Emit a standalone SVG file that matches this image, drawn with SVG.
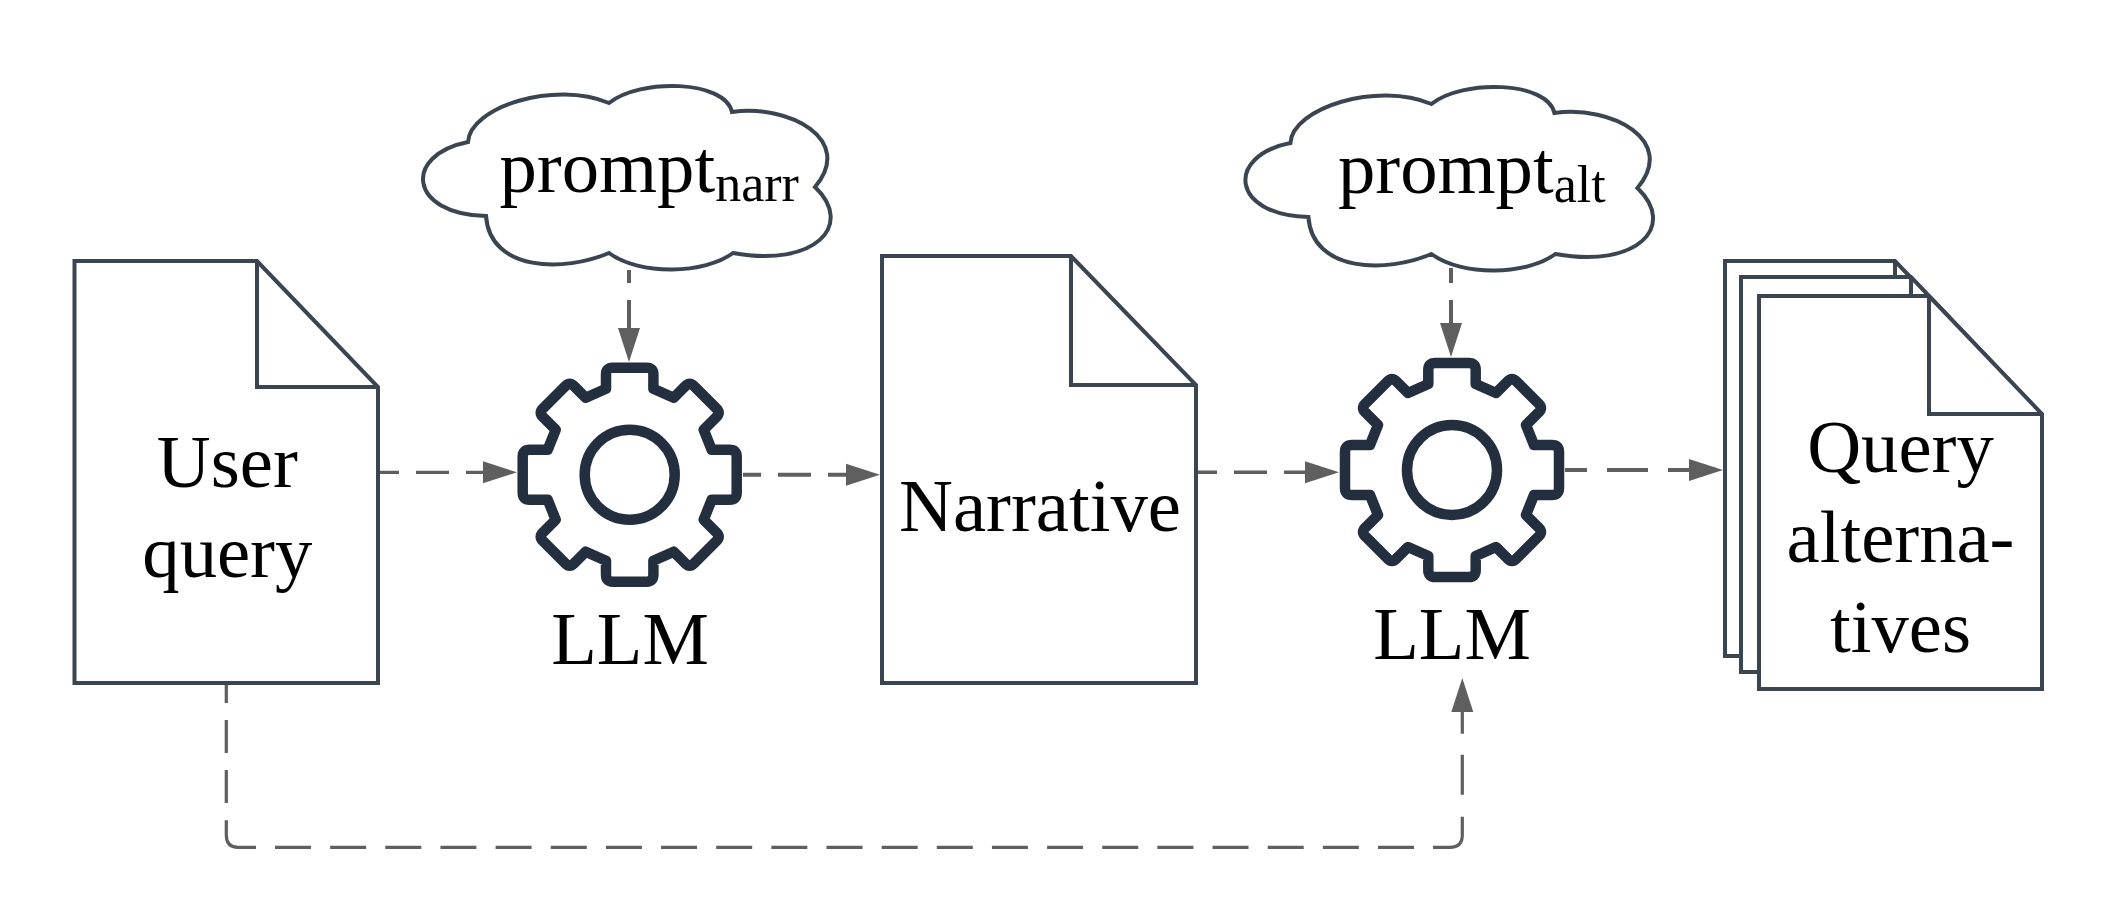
<svg xmlns="http://www.w3.org/2000/svg" width="2117" height="923" viewBox="0 0 2117 923">
<style>
.doc{fill:#fff;stroke:#3b4552;stroke-width:4;stroke-linejoin:miter}
.fold{fill:none;stroke:#3b4552;stroke-width:4;stroke-linejoin:miter}
.cloud{fill:#fff;stroke:#3b4552;stroke-width:4;stroke-linejoin:miter}
.gear{fill:none;stroke:#232f3e;stroke-width:10.5;stroke-linejoin:round}
.lbl{font-family:"Liberation Serif","Times New Roman",serif;font-size:74.67px;fill:#000;text-anchor:middle}
.pr{font-family:"Liberation Serif","Times New Roman",serif;font-size:74.67px;fill:#000}
.pr tspan{font-size:52px}
.c{fill:none;stroke:#5f5f5f;stroke-width:3.2}
.t{stroke-width:4}
.d{stroke-dasharray:33 17}
</style>
<defs>
<marker id="ah" markerUnits="userSpaceOnUse" markerWidth="36" markerHeight="24" refX="14" refY="12" orient="auto" viewBox="0 0 36 24"><path d="M0,1 L34,12 L0,23 Z" fill="#5f5f5f"/></marker>
<path id="cloudShape" d="M468,142 C470,107 555,80 609,103 C640,78 725,80 732,112 C790,104 855,140 815,187 C855,225 815,268 733,253 C705,274 640,276 609,253 C565,272 490,272 486,216 C408,214 403,155 468,142 Z"/>
<g id="gearShape"><circle r="45" cx="0" cy="0"/><path d="M-17,-107 L17,-107 Q23.7,-107 23.7,-100 L23.7,-86 L44,-77 L56,-89 Q60,-93 64,-89 L87,-66 Q91,-62 87,-58 L74,-45 L82,-25 L100,-25 Q107,-25 107,-18 L107,18 Q107,25 100,25 L82,25 L74,45 L87,58 Q91,62 87,66 L64,89 Q60,93 56,89 L44,77 L23.7,86 L23.7,100 Q23.7,107 17,107 L-17,107 Q-23.7,107 -23.7,100 L-23.7,86 L-44,77 L-56,89 Q-60,93 -64,89 L-87,66 Q-91,62 -87,58 L-74,45 L-82,25 L-100,25 Q-107,25 -107,18 L-107,-18 Q-107,-25 -100,-25 L-82,-25 L-74,-45 L-87,-58 Q-91,-62 -87,-66 L-64,-89 Q-60,-93 -56,-89 L-44,-77 L-23.7,-86 L-23.7,-100 Q-23.7,-107 -17,-107 Z"/></g>
</defs>
<rect width="2117" height="923" fill="#fff"/>
<g id="connectors">
<path class="c d" stroke-dashoffset="14" marker-end="url(#ah)" d="M380,472.3 H497"/>
<path class="c d t" stroke-dashoffset="15" marker-end="url(#ah)" d="M743,474.7 H860"/>
<path class="c d" style="stroke-width:3.6" stroke-dashoffset="13" marker-end="url(#ah)" d="M1197,472.3 H1319"/>
<path class="c t" stroke-dasharray="41 20" stroke-dashoffset="19" marker-end="url(#ah)" d="M1565,470 H1703"/>
<path class="c d t" stroke-dashoffset="20" marker-end="url(#ah)" d="M629,270 V342"/>
<path class="c d t" stroke-dashoffset="18" marker-end="url(#ah)" d="M1451,268 V337"/>
<path class="c" stroke-dasharray="19 17 33 17 33 17.3 70" d="M226.3,684 V835 Q226.3,847.3 238,847.3 H256"/>
<path class="c" stroke-dasharray="36 19.15" d="M275,847.3 H1414"/>
<path class="c" stroke-dasharray="55 22 40 21 60" marker-end="url(#ah)" d="M1433,847.3 H1450 Q1462.3,847.3 1462.3,835 V698"/>
</g>
<g id="user-query">
<path class="doc" d="M74.5,261 H257 L378,387 V683 H74.5 Z"/>
<path class="fold" d="M257,261 V387 H378"/>
<text class="lbl" x="227.3" y="487">User</text>
<text class="lbl" x="227.3" y="577">query</text>
</g>
<g id="prompt-narr">
<use href="#cloudShape" class="cloud"/>
<text class="pr" x="499.5" y="192">prompt<tspan dy="9">narr</tspan></text>
</g>
<g id="llm-1">
<use href="#gearShape" class="gear" transform="translate(629.7,474.7)"/>
<text class="lbl" x="630" y="664">LLM</text>
</g>
<g id="narrative">
<path class="doc" d="M882,256 H1071 L1196,385 V683 H882 Z"/>
<path class="fold" d="M1071,256 V385 H1196"/>
<text class="lbl" x="1040" y="531">Narrative</text>
</g>
<g id="prompt-alt">
<use href="#cloudShape" class="cloud" transform="translate(822.4,1)"/>
<text class="pr" x="1338" y="192.5">prompt<tspan dy="9">alt</tspan></text>
</g>
<g id="llm-2">
<use href="#gearShape" class="gear" transform="translate(1452,470)"/>
<text class="lbl" x="1452" y="659">LLM</text>
</g>
<g id="query-alternatives">
<path class="doc" d="M1725,261 H1895 L2008,379 V656 H1725 Z"/>
<path class="fold" d="M1895,261 V379 H2008"/>
<path class="doc" d="M1741,277 H1911 L2024,396 V672 H1741 Z"/>
<path class="fold" d="M1911,277 V396 H2024"/>
<path class="doc" d="M1759,296 H1929 L2042,414 V689 H1759 Z"/>
<path class="fold" d="M1929,296 V414 H2042"/>
<text class="lbl" x="1900.5" y="472">Query</text>
<text class="lbl" x="1900.5" y="562">alterna-</text>
<text class="lbl" x="1900.5" y="652">tives</text>
</g>
</svg>
